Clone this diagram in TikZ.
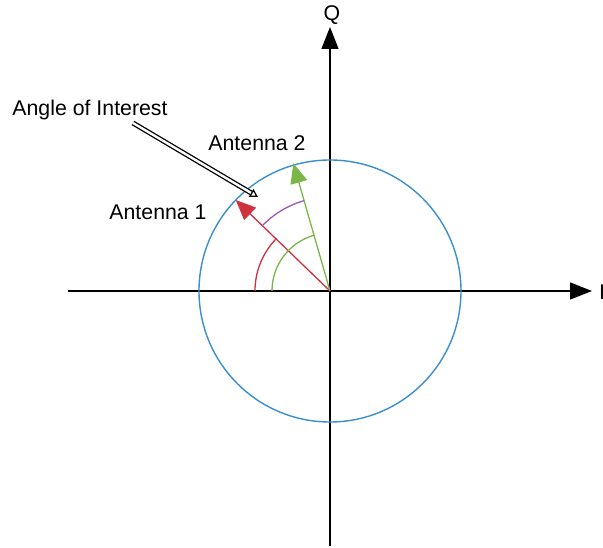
\documentclass[tikz,border=0pt]{standalone}
\usepackage{fontspec}
\setmainfont{Liberation Sans}
\usetikzlibrary{arrows.meta}
\definecolor{Krug}{HTML}{3A8FD0}
\definecolor{Ant1}{HTML}{D0313D}
\definecolor{Ant2}{HTML}{7AB648}
\definecolor{Ugao}{HTML}{9B59B6}
\tikzset{
  osa/.style    = {draw=black, line width=1.4pt, -{Triangle[length=22pt, width=17pt]}},
  oznaka/.style = {font=\fontsize{21.3}{25}\selectfont, inner sep=0pt},
  antena/.style = {line width=1.3pt, -{Triangle[length=20pt, width=17pt]}},
  luk/.style    = {line width=1.3pt},
  pokaz/.style  = {double=white, double distance=2.4pt, line width=1.3pt,
                   -{Triangle[open, length=8pt, width=9pt]}},
}

\begin{document}
\begin{tikzpicture}[x=1pt, y=1pt]
  \useasboundingbox (-330,-257) rectangle (273,291);

  \coordinate (o) at (0,0);
  \coordinate (levo) at (-262,0);
  \coordinate (desno) at (262,0);
  \coordinate (dole) at (0,-255);
  \coordinate (gore) at (0,264);

  % osi
  \draw[osa] (levo) -- (desno);
  \draw[osa] (dole) -- (gore);
  \node[oznaka, anchor=south] (q) at (2,266) {Q};
  \node[oznaka, anchor=west]  (i) at (269,-1) {I};

  % krug
  \node[circle, draw=Krug, line width=1.4pt, minimum size=262pt, inner sep=0pt] (krug) at (o) {};

  % antene
  \coordinate (vrh1) at (136:131);
  \coordinate (vrh2) at (106:133);
  \draw[antena, Ant1] (o) -- (vrh1);
  \draw[antena, Ant2] (o) -- (vrh2);

  % uglovi
  \draw[luk, Ant1] (180:75) arc[start angle=180, end angle=136, radius=75];
  \draw[luk, Ant2] (180:58) arc[start angle=180, end angle=106, radius=58];
  \draw[luk, Ugao] (136:94) arc[start angle=136, end angle=106, radius=94];

  \node[oznaka] (a2) at (-73,148) {Antenna 2};
  \node[oznaka] (a1) at (-172,79) {Antenna 1};
  \node[oznaka] (ugao) at (-240,181) {Angle of Interest};

  \coordinate (pocetak) at (-197,168);
  \coordinate (cilj) at (-72,94);
  \draw[pokaz] (pocetak) -- (cilj);
\end{tikzpicture}
\end{document}
